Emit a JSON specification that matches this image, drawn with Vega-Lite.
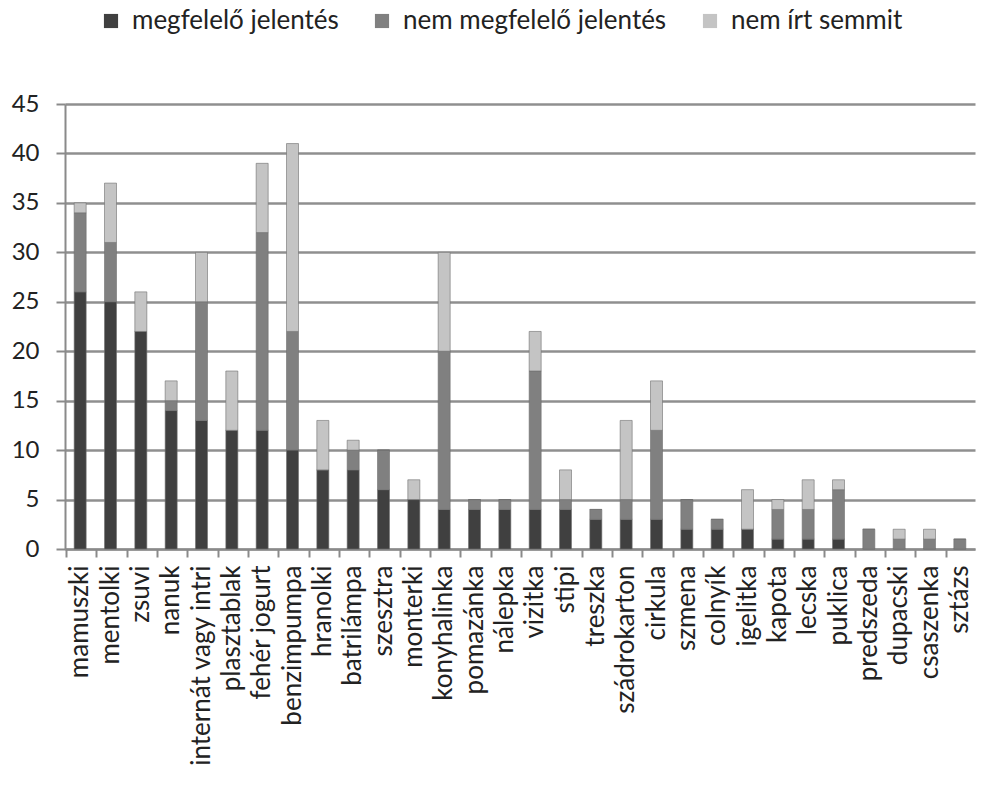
{
  "$schema": "https://vega.github.io/schema/vega-lite/v6.json",
  "width": 910,
  "height": 445,
  "autosize": {"type": "none"},
  "padding": {"left": 65, "top": 104, "right": 6, "bottom": 247},
  "background": "white",
  "config": {
    "font": "Lato",
    "view": {"stroke": null}
  },
  "data": {
    "values": [
      {"szo": "mamuszki", "megfelelő jelentés": 26, "nem megfelelő jelentés": 8, "nem írt semmit": 1},
      {"szo": "mentolki", "megfelelő jelentés": 25, "nem megfelelő jelentés": 6, "nem írt semmit": 6},
      {"szo": "zsuvi", "megfelelő jelentés": 22, "nem megfelelő jelentés": 0, "nem írt semmit": 4},
      {"szo": "nanuk", "megfelelő jelentés": 14, "nem megfelelő jelentés": 1, "nem írt semmit": 2},
      {"szo": "internát vagy intri", "megfelelő jelentés": 13, "nem megfelelő jelentés": 12, "nem írt semmit": 5},
      {"szo": "plasztablak", "megfelelő jelentés": 12, "nem megfelelő jelentés": 0, "nem írt semmit": 6},
      {"szo": "fehér jogurt", "megfelelő jelentés": 12, "nem megfelelő jelentés": 20, "nem írt semmit": 7},
      {"szo": "benzimpumpa", "megfelelő jelentés": 10, "nem megfelelő jelentés": 12, "nem írt semmit": 19},
      {"szo": "hranolki", "megfelelő jelentés": 8, "nem megfelelő jelentés": 0, "nem írt semmit": 5},
      {"szo": "batrilámpa", "megfelelő jelentés": 8, "nem megfelelő jelentés": 2, "nem írt semmit": 1},
      {"szo": "szesztra", "megfelelő jelentés": 6, "nem megfelelő jelentés": 4, "nem írt semmit": 0},
      {"szo": "monterki", "megfelelő jelentés": 5, "nem megfelelő jelentés": 0, "nem írt semmit": 2},
      {"szo": "konyhalinka", "megfelelő jelentés": 4, "nem megfelelő jelentés": 16, "nem írt semmit": 10},
      {"szo": "pomazánka", "megfelelő jelentés": 4, "nem megfelelő jelentés": 1, "nem írt semmit": 0},
      {"szo": "nálepka", "megfelelő jelentés": 4, "nem megfelelő jelentés": 1, "nem írt semmit": 0},
      {"szo": "vizitka", "megfelelő jelentés": 4, "nem megfelelő jelentés": 14, "nem írt semmit": 4},
      {"szo": "stipi", "megfelelő jelentés": 4, "nem megfelelő jelentés": 1, "nem írt semmit": 3},
      {"szo": "treszka", "megfelelő jelentés": 3, "nem megfelelő jelentés": 1, "nem írt semmit": 0},
      {"szo": "szádrokarton", "megfelelő jelentés": 3, "nem megfelelő jelentés": 2, "nem írt semmit": 8},
      {"szo": "cirkula", "megfelelő jelentés": 3, "nem megfelelő jelentés": 9, "nem írt semmit": 5},
      {"szo": "szmena", "megfelelő jelentés": 2, "nem megfelelő jelentés": 3, "nem írt semmit": 0},
      {"szo": "colnyík", "megfelelő jelentés": 2, "nem megfelelő jelentés": 1, "nem írt semmit": 0},
      {"szo": "igelitka", "megfelelő jelentés": 2, "nem megfelelő jelentés": 0, "nem írt semmit": 4},
      {"szo": "kapota", "megfelelő jelentés": 1, "nem megfelelő jelentés": 3, "nem írt semmit": 1},
      {"szo": "lecska", "megfelelő jelentés": 1, "nem megfelelő jelentés": 3, "nem írt semmit": 3},
      {"szo": "puklica", "megfelelő jelentés": 1, "nem megfelelő jelentés": 5, "nem írt semmit": 1},
      {"szo": "predszeda", "megfelelő jelentés": 0, "nem megfelelő jelentés": 2, "nem írt semmit": 0},
      {"szo": "dupacski", "megfelelő jelentés": 0, "nem megfelelő jelentés": 1, "nem írt semmit": 1},
      {"szo": "csaszenka", "megfelelő jelentés": 0, "nem megfelelő jelentés": 1, "nem írt semmit": 1},
      {"szo": "sztázs", "megfelelő jelentés": 0, "nem megfelelő jelentés": 1, "nem írt semmit": 0}
    ]
  },
  "transform": [
    {"fold": ["megfelelő jelentés", "nem megfelelő jelentés", "nem írt semmit"], "as": ["sorozat", "ertek"]}
  ],
  "mark": {"type": "bar", "size": 12, "stroke": "#6e6e6e", "strokeWidth": 0.6},
  "encoding": {
    "x": {
      "field": "szo",
      "type": "nominal",
      "sort": null,
      "title": null,
      "axis": {
        "labelAngle": -90,
        "labelFontSize": 26,
        "labelLimit": 400,
        "labelColor": "#222222",
        "labelPadding": 8,
        "bandPosition": 0,
        "tickSize": 8,
        "tickColor": "#8a8a8a",
        "tickWidth": 2,
        "domainColor": "#8a8a8a",
        "domainWidth": 2
      }
    },
    "y": {
      "field": "ertek",
      "type": "quantitative",
      "stack": "zero",
      "title": null,
      "scale": {"domain": [0, 45], "nice": false},
      "axis": {
        "values": [0, 5, 10, 15, 20, 25, 30, 35, 40, 45],
        "labelFontSize": 24,
        "labelColor": "#222222",
        "labelPadding": 17,
        "tickSize": 9,
        "tickColor": "#8a8a8a",
        "tickWidth": 2,
        "domainColor": "#8a8a8a",
        "domainWidth": 2,
        "gridColor": "#8f8f8f",
        "gridWidth": 2.5
      }
    },
    "color": {
      "field": "sorozat",
      "type": "nominal",
      "title": null,
      "scale": {
        "domain": ["megfelelő jelentés", "nem megfelelő jelentés", "nem írt semmit"],
        "range": ["#404040", "#808080", "#c4c4c4"]
      },
      "legend": {
        "orient": "none",
        "direction": "horizontal",
        "legendX": 33,
        "legendY": -96,
        "symbolType": "square",
        "symbolSize": 200,
        "symbolStrokeWidth": 0,
        "labelFontSize": 26,
        "labelLimit": 400,
        "labelColor": "#222222",
        "labelOffset": 8,
        "columnPadding": 30
      }
    },
    "order": {"field": "sorozat", "sort": "ascending"}
  }
}
